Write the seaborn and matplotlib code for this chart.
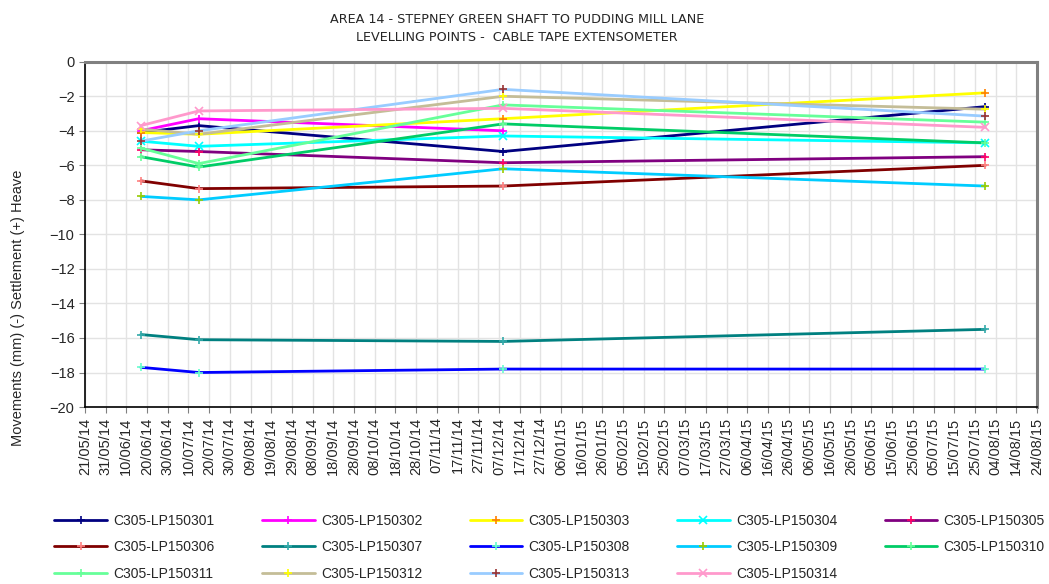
import matplotlib
matplotlib.use('Agg')
import matplotlib.pyplot as plt
import matplotlib.dates as mdates
import pandas as pd
import numpy as np
import seaborn as sns

# survey dates
dates = pd.to_datetime(['2014-06-17', '2014-07-15', '2014-12-09', '2015-07-30'])

names = ['C305-LP150301', 'C305-LP150302', 'C305-LP150303', 'C305-LP150304', 'C305-LP150305',
         'C305-LP150306', 'C305-LP150307', 'C305-LP150308', 'C305-LP150309', 'C305-LP150310',
         'C305-LP150311', 'C305-LP150312', 'C305-LP150313', 'C305-LP150314']

lp301 = [-4.1, -3.7, -5.2, -2.6]
lp302 = [-4.0, -3.3, -4.0, np.nan]
lp303 = [-4.1, -4.2, -3.3, -1.8]
lp304 = [-4.6, -4.9, -4.3, -4.7]
lp305 = [-5.1, -5.2, -5.85, -5.5]
lp306 = [-6.9, -7.35, -7.2, -6.0]
lp307 = [-15.8, -16.1, -16.2, -15.5]
lp308 = [-17.7, -18.0, -17.8, -17.8]
lp309 = [-7.8, -8.0, -6.2, -7.2]
lp310 = [-5.5, -6.1, -3.6, -4.7]
lp311 = [-5.0, -5.9, -2.5, -3.5]
lp312 = [-3.9, -4.2, -2.0, -2.75]
lp313 = [-4.6, -4.0, -1.6, -3.15]
lp314 = [-3.7, -2.85, -2.7, -3.8]
values = [lp301, lp302, lp303, lp304, lp305, lp306, lp307,
          lp308, lp309, lp310, lp311, lp312, lp313, lp314]

line_cols = ['#000080', '#FF00FF', '#FFFF00', '#00FFFF', '#800080', '#800000', '#008080',
             '#0000FF', '#00CCFF', '#00CC66', '#66FF99', '#C4BD97', '#99CCFF', '#FF99CC']
mark_cols = ['#000080', '#FF00FF', '#FF8000', '#00FFFF', '#FF0066', '#FF8080', '#33AAAA',
             '#66FFCC', '#99CC00', '#66FF99', '#66FF99', '#FFFF00', '#993333', '#FF99CC']
markers = ['+', '+', '+', 'x', '+', '+', '+', '+', '+', '+', '+', '+', '+', 'x']

sns.set_style('white')
plt.rcParams['font.family'] = ['Liberation Sans', 'DejaVu Sans']

fig = plt.figure(figsize=(10.49, 5.84), dpi=100)
ax = fig.add_axes([0.081, 0.303, 0.9076, 0.5913])

for i in range(len(names)):
    d = pd.DataFrame({'date': dates, 'mm': values[i]}).dropna()
    sns.lineplot(data=d, x='date', y='mm', ax=ax, color=line_cols[i], lw=2.0,
                 marker=markers[i], ms=6, mew=1.2, mec=mark_cols[i], label=names[i])

start = pd.Timestamp('2014-05-21')
end = pd.Timestamp('2015-08-24')
ticks = pd.date_range(start, end, freq='10D')
ax.set_xlim(start, end)
ax.set_xticks(ticks)
ax.xaxis.set_major_formatter(mdates.DateFormatter('%d/%m/%y'))
ax.tick_params(axis='x', rotation=90, labelsize=10.5, length=4, direction='out', bottom=True, color='#808080')
ax.set_ylim(-20, 0)
ax.set_yticks(np.arange(-20, 1, 2))
ax.tick_params(axis='y', labelsize=10.5, length=4, direction='out', left=True, color='#808080')
ax.grid(True, color='#E3E3E3', lw=1)
ax.set_xlabel('')
ax.set_ylabel('')

for s in ['left', 'bottom']:
    ax.spines[s].set_color('black')
    ax.spines[s].set_linewidth(1.2)
for s in ['top', 'right']:
    ax.spines[s].set_color('#808080')
    ax.spines[s].set_linewidth(2.2)

fig.text(18 / 1049, 0.473, 'Movements (mm) (-) Settlement (+) Heave', rotation=90,
         ha='center', va='center', fontsize=10.5)
fig.text(0.493, 0.951, 'AREA 14 - STEPNEY GREEN SHAFT TO PUDDING MILL LANE\nLEVELLING POINTS -  CABLE TAPE EXTENSOMETER',
         ha='center', va='center', fontsize=9.2, linespacing=1.5,
         family=['Liberation Sans Narrow', 'DejaVu Sans'])

h, l = ax.get_legend_handles_labels()
ax.get_legend().remove()
# legend fills column by column, reorder so rows read 301..305, 306..310, 311..314
order = [0, 5, 10, 1, 6, 11, 2, 7, 12, 3, 8, 13, 4, 9]
fig.legend([h[k] for k in order], [l[k] for k in order], loc='center',
           bbox_to_anchor=(0.524, 0.063), ncol=5, frameon=False,
           fontsize=10, handlelength=3.8, handletextpad=0.45, columnspacing=3.4, labelspacing=0.9)

fig.savefig('out.png', dpi=100)
